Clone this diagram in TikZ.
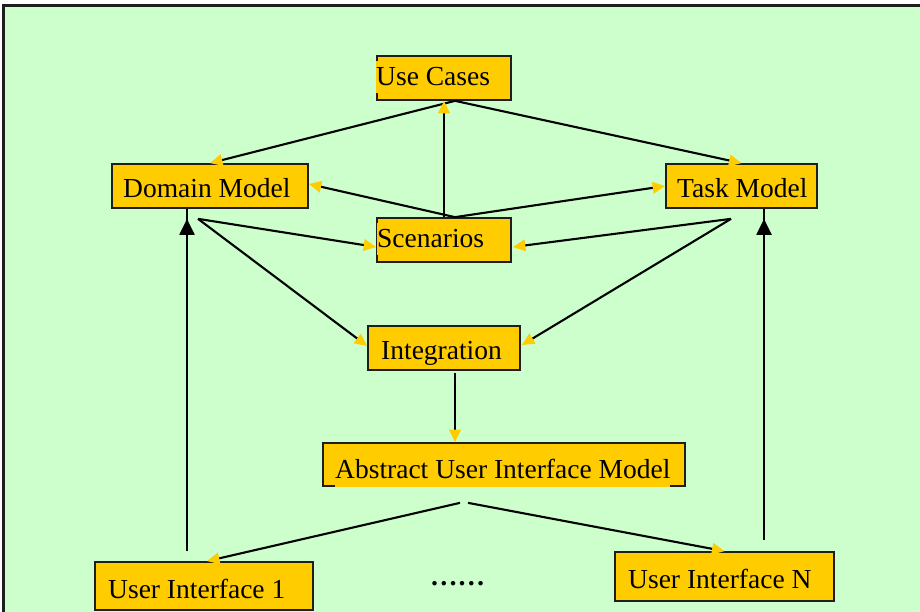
\documentclass[tikz,border=0pt]{standalone}
\usepackage{fontspec}
\setmainfont{Liberation Serif}
\usetikzlibrary{arrows.meta}
\definecolor{panelgreen}{HTML}{CCFFCC}
\definecolor{boxyellow}{HTML}{FFCC00}
\definecolor{edgegray}{HTML}{1E1E1E}
\begin{document}
\begin{tikzpicture}[x=1pt,y=-1pt,
  box/.style={draw=edgegray, line width=1.7pt, fill=boxyellow, inner sep=0pt,
              minimum height=44pt},
  boxtext/.style={fill=boxyellow, inner sep=0pt, anchor=base west,
              text height=24.5pt, text depth=7pt,
              font=\fontsize{27.5}{30}\selectfont},
  link/.style={draw=black, line width=2.1pt,
              -{Triangle[length=12.5pt,width=11.5pt,color=boxyellow]}},
  uplink/.style={draw=black, line width=2.1pt,
              -{Triangle[length=16pt,width=15pt]}}]
\useasboundingbox (0,0) rectangle (920,612);
\fill[white] (0,0) rectangle (920,612);
\begin{scope}
  \clip (0,0) rectangle (920,612);
  \draw[edgegray, line width=2.2pt, fill=panelgreen] (3.5,5.5) rectangle (940,640);
\end{scope}

% boxes
\node[box, minimum width=134pt] (uc) at (444,78) {};
\node[box, minimum width=196pt] (dm) at (210,186) {};
\node[box, minimum width=151pt] (tm) at (741.5,186) {};
\node[box, minimum width=134pt] (sc) at (444,240) {};
\node[box, minimum width=152pt] (ig) at (444,348) {};
\node[box, minimum width=362pt, minimum height=43pt] (aui) at (504,464.5) {};
\node[box, minimum width=218pt, minimum height=48pt] (ui1) at (204,586) {};
\node[box, minimum width=219pt, minimum height=49pt] (uin) at (724.5,576.5) {};

% labels
\node[boxtext] (uctext) at (376,86) {Use Cases};
\node[boxtext] (dmtext) at (123,197.7) {Domain Model};
\node[boxtext] (tmtext) at (677,197.7) {Task Model};
\node[boxtext] (sctext) at (377,247.7) {Scenarios};
\node[boxtext] (igtext) at (381,359) {Integration};
\node[boxtext, text depth=8.5pt] (auitext) at (335,478) {Abstract User Interface Model};
\node[boxtext] (ui1text) at (108,598) {User Interface 1};
\node[boxtext] (uintext) at (628,588) {User Interface N};
\node[anchor=base west, inner sep=0pt, font=\fontsize{27.5}{30}\selectfont\bfseries] (dots) at (430,585) {……};

% connectors
\draw[link] ([xshift=11pt]uc.south) -- (dm.north);
\draw[link] ([xshift=11pt]uc.south) -- (tm.north);
\draw[link] (sc.north) -- (uc.south);
\draw[link] ([xshift=11pt]sc.north) -- ([yshift=2pt]dm.east);
\draw[link] ([xshift=11pt]sc.north) -- (tm.west);
\draw[link] ([xshift=-12pt,yshift=-10pt]dm.south) -- ([yshift=-7pt]sc.west);
\draw[link] ([xshift=-12pt,yshift=-10pt]dm.south) -- ([yshift=2pt]ig.west);
\draw[link] ([xshift=-10.5pt,yshift=-10pt]tm.south) -- ([xshift=1pt,yshift=-7pt]sc.east);
\draw[link] ([xshift=-10.5pt,yshift=-10pt]tm.south) -- ([xshift=1pt,yshift=3pt]ig.east);
\draw[link] ([xshift=11pt,yshift=-2pt]ig.south) -- ([xshift=11pt]ig.south |- aui.north);
\draw[link] ([xshift=-44pt,yshift=-16pt]aui.south) -- ([xshift=3pt]ui1.north);
\draw[link] ([xshift=-36pt,yshift=-16pt]aui.south) -- (uin.north);
\draw[uplink] ([xshift=-17pt,yshift=10pt]ui1.north) -- ([xshift=-17pt]ui1.north |- dm.south) ++(0,10);
\draw[uplink] ([xshift=39.5pt,yshift=11pt]uin.north) -- ([xshift=39.5pt]uin.north |- tm.south) ++(0,10);
\end{tikzpicture}
\end{document}
